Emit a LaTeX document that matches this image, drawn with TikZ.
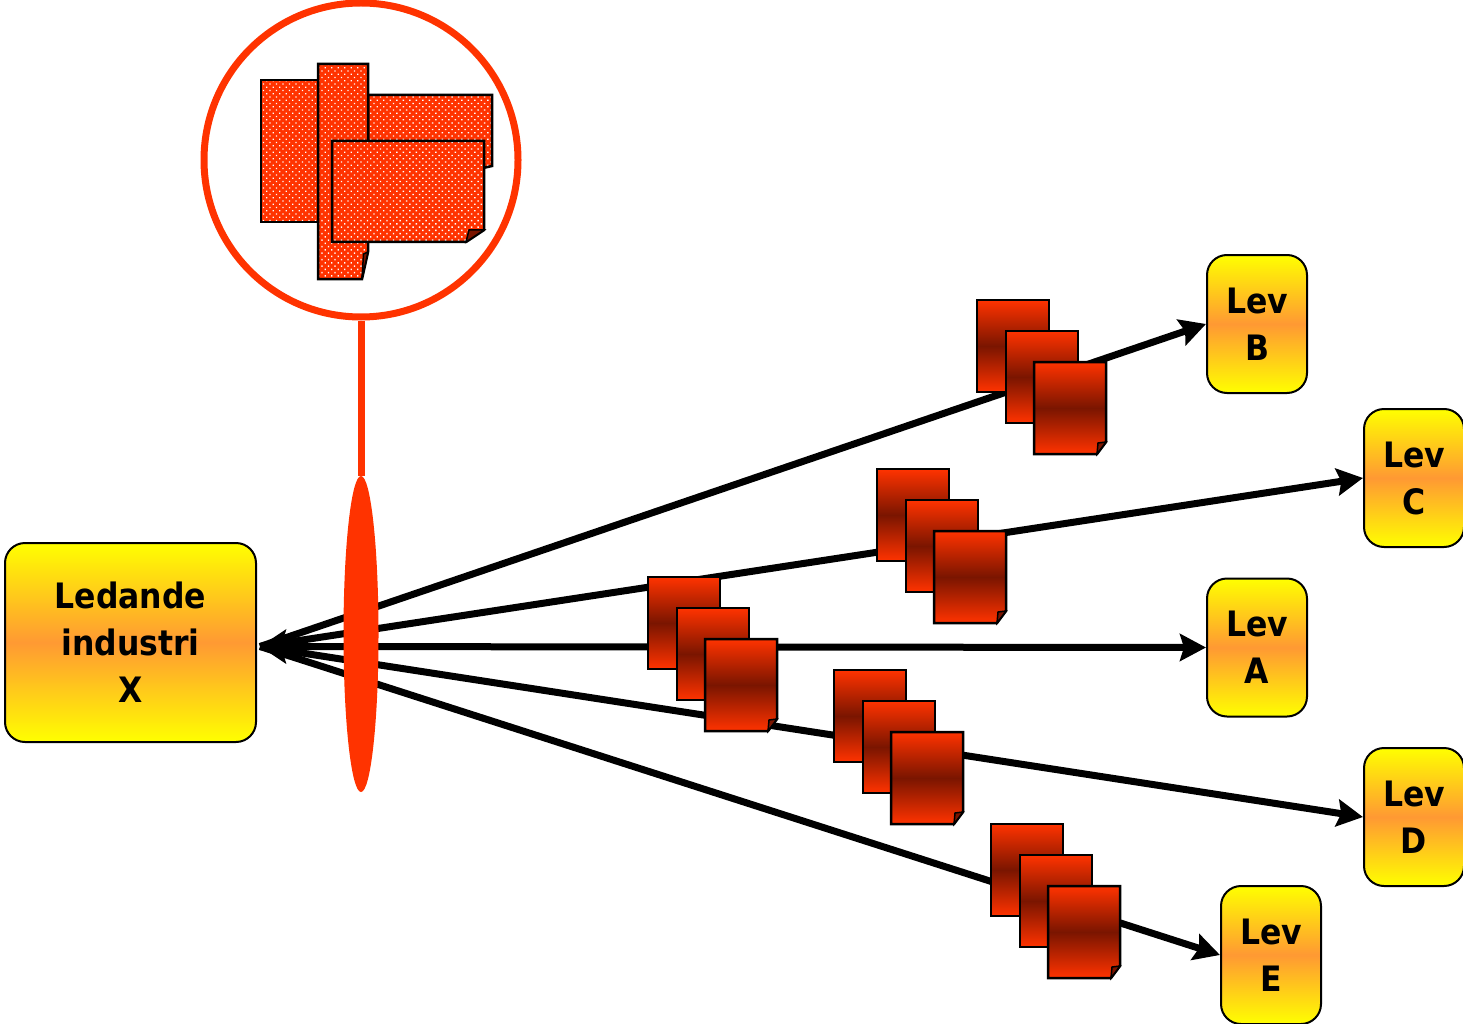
\documentclass[tikz,border=0pt]{standalone}
\usepackage{fontspec}
\setmainfont{DejaVu Sans}[BoldFeatures={FakeStretch=0.9}]
\usetikzlibrary{patterns.meta,arrows.meta,shapes.geometric}
\definecolor{docred}{HTML}{FF3300}
\definecolor{docdark}{HTML}{7A1500}
\definecolor{boxyellow}{HTML}{FFFF00}
\definecolor{boxorange}{HTML}{FF9933}
\tikzset{
  x=1pt,y=-1pt,
  levbox/.style={draw=black,line width=2pt,rounded corners=20pt,anchor=north west,inner sep=0pt,
    top color=boxyellow,bottom color=boxyellow,middle color=boxorange,
    align=center,font=\bfseries\fontsize{35}{47}\selectfont},
  flow/.style={line width=7pt,draw=black,-{Stealth[length=26pt,width=27pt,inset=4pt]}},
  docline/.style={draw=black,line width=2.5pt,line join=miter},
  gradoc/.style={docline,top color=docred,bottom color=docred,middle color=docdark},
  dotdoc/.style={docline,preaction={fill=docred},pattern={Dots[distance=4.6pt,radius=0.95pt,angle=45]},pattern color=white},
  foldcorner/.style={draw=black,line width=1.5pt,fill=docdark},
  hoop/.style={draw=docred,line width=7pt},
}
\newcommand{\docstack}[2]{%
  \path[gradoc] (#1,#2) rectangle ++(72,92);
  \path[gradoc] (#1+29,#2+31) rectangle ++(72,92);
  \path[gradoc] (#1+57,#2+62) -- ++(72,0) -- ++(0,80) -- ++(-9,12) -- ++(-63,0) -- cycle;
  \path[foldcorner] (#1+129,#2+142) -- ++(-8,1) -- ++(-1,11) -- cycle;
}
\begin{document}
\begin{tikzpicture}
\useasboundingbox (0,0) rectangle (1463,1024);
% boxes
\node[levbox,minimum width=251pt,minimum height=199pt] (ind) at (4,542) {Ledande\\industri\\X};
\node[levbox,minimum width=100pt,minimum height=138pt] (levB) at (1206,254) {Lev\\B};
\node[levbox,minimum width=100pt,minimum height=138pt] (levC) at (1363,408) {Lev\\C};
\node[levbox,minimum width=100pt,minimum height=138pt] (levA) at (1206,577.5) {Lev\\A};
\node[levbox,minimum width=100pt,minimum height=138pt] (levD) at (1363,747) {Lev\\D};
\node[levbox,minimum width=100pt,minimum height=138pt] (levE) at (1220,885) {Lev\\E};
\coordinate (hub) at (260,646.5);
% connectors
\draw[flow] (hub) -- (levB.west);
\draw[flow] (hub) -- (levC.west);
\draw[flow] (hub) -- (levD.west);
\draw[flow] (hub) -- (levE.west);
\draw[flow,{Stealth[length=26pt,width=34pt,inset=5pt]}-{Stealth[length=26pt,width=27pt,inset=4pt]}] (hub) -- (levA.west);
% hub ellipse and lens
\node[ellipse,fill=docred,inner sep=0pt,minimum width=35pt,minimum height=316pt] (hubell) at (361,634) {};
\node[circle,hoop,inner sep=0pt,minimum size=314pt] (lens) at (361,160) {};
\draw[hoop] (lens.south) -- (hubell.north);
% documents in lens
\path[dotdoc] (261,80) rectangle (330,222);
\path[dotdoc] (368,95) -- (492,95) -- (492,166) -- (483,168) -- (368,168) -- cycle;
\path[dotdoc] (318,64) -- (368,64) -- (368,252) -- (362,279) -- (318,279) -- cycle;
\path[foldcorner] (368,252) -- (363.5,254) -- (362,279) -- cycle;
\path[dotdoc] (332,141) -- (484,141) -- (484,230) -- (466,242) -- (332,242) -- cycle;
\path[foldcorner] (484,230) -- (469,230) -- (466,242) -- cycle;
% document stacks
\docstack{977}{300}
\docstack{877}{469}
\docstack{648}{577}
\docstack{834}{670}
\docstack{991}{824}
\end{tikzpicture}
\end{document}
